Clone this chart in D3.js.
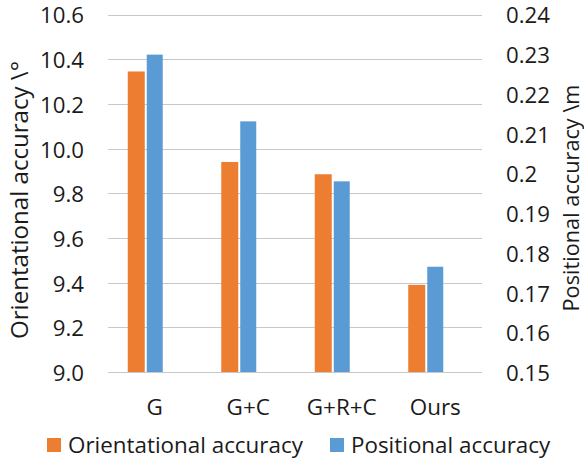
<!DOCTYPE html>
<html>
<head>
<meta charset="utf-8">
<script src="https://cdn.jsdelivr.net/npm/d3@7"></script>
<style>
  html, body { margin: 0; padding: 0; background: #fff; }
  text { font-family: "Open Sans", "Noto Sans", sans-serif; fill: #1a1a1a; }
</style>
</head>
<body>
<svg id="chart" width="584" height="460"></svg>
<script>
const categories = ["G", "G+C", "G+R+C", "Ours"];
const orientational = [10.345, 9.94, 9.885, 9.39];
const positional = [0.2299, 0.2131, 0.198, 0.1765];
const leftTicks = [9.0, 9.2, 9.4, 9.6, 9.8, 10.0, 10.2, 10.4, 10.6];
const rightTicks = [0.15, 0.16, 0.17, 0.18, 0.19, 0.20, 0.21, 0.22, 0.23, 0.24];
const seriesNames = ["Orientational accuracy", "Positional accuracy"];
const colors = ["#ED7D31", "#5B9BD5"];

const svg = d3.select("#chart");
const pL = 108, pR = 482, pT = 14.5, pB = 372;

// fit a font size so that a sample string spans a target width
function fitSize(str, target) {
  const t = svg.append("text").style("font-size", "20px").text(str);
  const w = t.node().getComputedTextLength();
  t.remove();
  return 20 * target / w;
}
const fsTick = fitSize("10.6", 44);
const fsCat = fitSize("G+R+C", 70);
const fsLeg = fitSize("Orientational accuracy", 235);
const fsTitleL = fitSize("Orientational accuracy \\°", 278);
const fsTitleR = fitSize("Positional accuracy \\m", 227);

const x = d3.scaleBand().domain(categories).range([pL, pR]).padding(0);
const yL = d3.scaleLinear().domain([9.0, 10.6]).range([pB, pT]);
const yR = d3.scaleLinear().domain([0.15, 0.24]).range([pB, pT]);

// gridlines
svg.append("g").selectAll("line").data(leftTicks).join("line")
  .attr("x1", pL).attr("x2", pR)
  .attr("y1", d => Math.round(yL(d)) + 0.5).attr("y2", d => Math.round(yL(d)) + 0.5)
  .attr("stroke", "#c8c8c8").attr("stroke-width", 1);

const bw = 17;
// orange bars
svg.append("g").selectAll("rect").data(categories).join("rect")
  .attr("x", (d) => x(d) + x.bandwidth() / 2 - 27)
  .attr("width", bw)
  .attr("y", (d, i) => yL(orientational[i]))
  .attr("height", (d, i) => pB - yL(orientational[i]))
  .attr("fill", colors[0]);
// blue bars
svg.append("g").selectAll("rect").data(categories).join("rect")
  .attr("x", (d) => x(d) + x.bandwidth() / 2 - 8)
  .attr("width", bw - 1)
  .attr("y", (d, i) => yR(positional[i]))
  .attr("height", (d, i) => pB - yR(positional[i]))
  .attr("fill", colors[1]);

// left axis
const axL = d3.axisLeft(yL).tickValues(leftTicks).tickFormat(d => d.toFixed(1)).tickSize(0).tickPadding(0);
svg.append("g").attr("transform", "translate(84,0)").call(axL)
  .call(g => g.select(".domain").remove())
  .selectAll("text").attr("dy", "0.38em").style("font-size", fsTick + "px").style("font-family", '"Open Sans", sans-serif').attr("fill", "#1a1a1a");

// right axis
const axR = d3.axisRight(yR).tickValues(rightTicks).tickFormat(d => String(+d.toFixed(2))).tickSize(0).tickPadding(0);
svg.append("g").attr("transform", "translate(506,0)").call(axR)
  .call(g => g.select(".domain").remove())
  .selectAll("text").attr("dy", "0.38em").style("font-size", fsTick + "px").style("font-family", '"Open Sans", sans-serif').attr("fill", "#1a1a1a");

// category labels
svg.append("g").selectAll("text").data(categories).join("text")
  .attr("x", d => x(d) + x.bandwidth() / 2)
  .attr("y", 407).attr("dy", "0.35em")
  .attr("text-anchor", "middle").style("font-size", fsCat + "px")
  .text(d => d);

// axis titles
svg.append("text").attr("transform", "translate(20,200) rotate(-90)")
  .attr("text-anchor", "middle").attr("dy", "0.35em").style("font-size", fsTitleL + "px")
  .text("Orientational accuracy \\°");
svg.append("text").attr("transform", "translate(571,198) rotate(-90)")
  .attr("text-anchor", "middle").attr("dy", "0.35em").style("font-size", fsTitleR + "px")
  .text("Positional accuracy \\m");

// legend
const legX = [47, 330];
const leg = svg.append("g").selectAll("g").data(seriesNames).join("g")
  .attr("transform", (d, i) => `translate(${legX[i]},445)`);
leg.append("rect").attr("x", 0).attr("y", -7).attr("width", 14).attr("height", 14)
  .attr("fill", (d, i) => colors[i]);
leg.append("text").attr("x", 21).attr("dy", "0.35em").style("font-size", fsLeg + "px").text(d => d);
</script>
</body>
</html>
